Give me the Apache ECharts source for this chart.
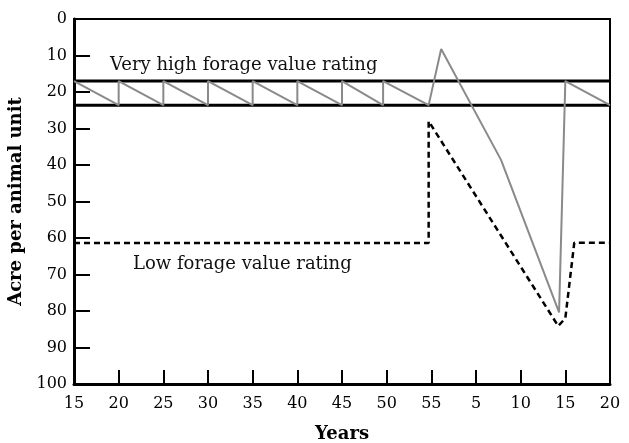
<!DOCTYPE html>
<html>
<head>
<meta charset="utf-8">
<script src="https://cdn.jsdelivr.net/npm/echarts@6/dist/echarts.min.js"></script>
<style>html,body{margin:0;padding:0;background:#fff;}#chart{width:629px;height:443px;}</style>
</head>
<body>
<div id="chart"></div>
<script>
// X tick labels (the axis restarts after 55)
const xTickLabels = ['15','20','25','30','35','40','45','50','55','5','10','15','20'];
// Very high forage value rating band (acre per animal unit)
const bandTop = 17;
const bandBottom = 23.6;
// Solid gray line (continuous-year position, acre per animal unit)
const solidX = [15,20,20,25,25,30,30,35,35,40,40,45,45,49.6,49.6,54.7,56.1,62.8,69.3,70,75];
const solidY = [17,23.6,17,23.6,17,23.6,17,23.6,17,23.6,17,23.6,17,23.6,17,23.6,8.2,38.6,80.4,17,23.6];
// Dashed black line (low forage value rating)
const dashX = [15,54.7,54.7,69.2,70,71,75];
const dashY = [61.4,61.4,28,84.1,82,61.3,61.3];

const zip = (a,b)=>a.map((v,i)=>[v,b[i]]);
const FONT = 'DejaVu Serif';

const chart = echarts.init(document.getElementById('chart'), null, {renderer:'canvas'});
chart.setOption({
  animation:false,
  backgroundColor:'#fff',
  grid:{left:74,right:19,top:19,bottom:59,outerBoundsMode:'none',containLabel:false,show:true,borderColor:'#000',borderWidth:2,backgroundColor:'transparent'},
  xAxis:{
    type:'value',min:15,max:75,interval:5,
    name:'Years',nameLocation:'middle',nameGap:41,
    nameTextStyle:{fontFamily:FONT,fontWeight:'bold',fontSize:18,color:'#000'},
    axisLine:{show:true,onZero:false,lineStyle:{color:'#000',width:3}},
    axisTick:{show:true,inside:true,length:14,lineStyle:{color:'#000',width:2}},
    axisLabel:{margin:12,fontFamily:FONT,fontSize:16,color:'#000',
      formatter:(v)=>xTickLabels[Math.round((v-15)/5)]},
    splitLine:{show:false}
  },
  yAxis:{
    type:'value',min:0,max:100,interval:10,inverse:true,
    name:'Acre per animal unit',nameLocation:'middle',nameGap:48,
    nameTextStyle:{fontFamily:FONT,fontWeight:'bold',fontSize:18,color:'#000'},
    axisLine:{show:true,onZero:false,lineStyle:{color:'#000',width:3}},
    axisTick:{show:true,inside:true,length:16,lineStyle:{color:'#000',width:2}},
    axisLabel:{margin:7,fontFamily:FONT,fontSize:16,color:'#000'},
    splitLine:{show:false}
  },
  series:[
    {type:'line',data:[[15,bandTop],[75,bandTop]],symbol:'none',lineStyle:{color:'#000',width:3},z:3},
    {type:'line',data:[[15,bandBottom],[75,bandBottom]],symbol:'none',lineStyle:{color:'#000',width:3},z:3},
    {type:'line',data:zip(solidX,solidY),symbol:'none',lineStyle:{color:'#8a8a8a',width:2},z:4},
    {type:'line',data:zip(dashX,dashY),symbol:'none',lineStyle:{color:'#000',width:2.5,type:[6,4]},z:4}
  ],
  graphic:[
    {type:'text',left:110,top:56,style:{text:'Very high forage value rating',fontFamily:FONT,fontSize:18,fill:'#111'}},
    {type:'text',left:133,top:255,style:{text:'Low forage value rating',fontFamily:FONT,fontSize:18,fill:'#111'}}
  ]
});
</script>
</body>
</html>
